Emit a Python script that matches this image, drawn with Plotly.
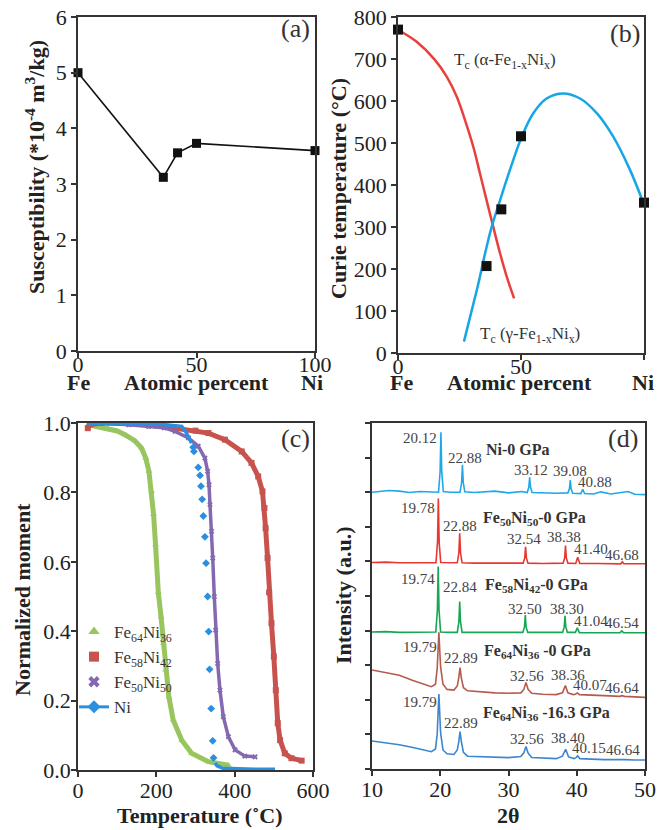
import plotly.graph_objects as go

# ---------------- data ----------------
# (a) susceptibility vs Ni atomic percent
sus_ni = [0, 36, 42, 50, 100]
sus_val = [5.0, 3.12, 3.56, 3.73, 3.60]

# (b) Curie temperature
tc_ni = [0, 36, 42, 50, 100]
tc_val = [770, 207, 342, 516, 358]
alpha_x = [0.1, 7.6, 15, 19.8, 23.9, 27.2, 30.6, 33.3, 36, 38.7, 41.5, 44.2, 47.2]
alpha_t = [769, 741, 698, 658, 610, 555, 491, 428, 364, 301, 237, 182, 130]
gamma_x = [26.8, 30, 32.7, 35.4, 38.1, 41.5, 45.5, 50.3, 55, 60.4, 67.2, 74, 80.8, 87.5, 94.3, 99.7]
gamma_t = [27, 102, 166, 237, 301, 364, 436, 515, 571, 606, 618, 606, 571, 515, 436, 358]

# (c) normalized moment vs temperature
g_T = [26, 50, 77, 100, 120, 145, 162, 173, 181, 188, 193, 198, 205, 212, 218, 224, 232, 243, 265, 290, 333, 384]
g_M = [0.995, 0.99, 0.984, 0.977, 0.966, 0.949, 0.928, 0.899, 0.861, 0.803, 0.736, 0.649, 0.512, 0.442, 0.365, 0.288, 0.211, 0.144, 0.086, 0.048, 0.024, 0.014]
r_T = [25, 30, 60, 100, 150, 200, 248, 300, 333, 375, 418, 443, 460, 471, 476, 479, 484, 488, 494, 500, 505, 510, 516, 528, 545, 571]
r_M = [0.985, 0.995, 1.0, 1.0, 0.997, 0.993, 0.986, 0.978, 0.971, 0.952, 0.918, 0.885, 0.846, 0.803, 0.755, 0.697, 0.611, 0.512, 0.423, 0.327, 0.23, 0.135, 0.086, 0.048, 0.034, 0.027]
p_T = [30, 80, 130, 180, 220, 248, 282, 307, 324, 331, 334.5, 337, 341, 344, 348, 351.5, 356.6, 362.5, 371, 384, 401, 426, 452]
p_M = [1.0, 1.0, 0.995, 0.99, 0.986, 0.976, 0.957, 0.933, 0.899, 0.861, 0.822, 0.765, 0.688, 0.611, 0.5, 0.403, 0.307, 0.23, 0.154, 0.096, 0.058, 0.04, 0.038]
ni_top_T = [25, 60, 100, 150, 200, 240, 265, 275, 282, 290]
ni_top_M = [0.998, 1.0, 0.998, 1.0, 0.998, 0.993, 0.99, 0.975, 0.957, 0.942]
ni_drop_T = [294, 296, 307, 311.5, 314, 317, 320, 324, 327, 331, 333.6, 336, 340, 344, 346]
ni_drop_M = [0.93, 0.918, 0.872, 0.849, 0.818, 0.78, 0.732, 0.672, 0.596, 0.50, 0.399, 0.29, 0.177, 0.084, 0.035]
ni_bot_T = [350, 355, 370, 400, 450, 503]
ni_bot_M = [0.02, 0.012, 0.005, 0.003, 0.002, 0.002]

# (d) XRD patterns (offset intensities)
ni_x = [10, 12.5, 14, 15.5, 17, 18.5, 19.75, 19.98, 20.1, 20.22, 20.45, 21.5, 22.9, 23.13, 23.25, 23.37, 23.6, 25, 28, 30, 32, 32.75, 32.98, 33.1, 33.22, 33.45, 35, 37, 38.7, 38.93, 39.05, 39.17, 39.4, 40.6, 40.87, 41.15, 42.5, 43.5, 45, 47.5, 48.5, 50]
ni_y = [8.0, 8.05, 8.03, 7.99, 8.02, 8.0, 8.0, 8.6, 9.73, 8.6, 8.02, 8.0, 8.0, 8.28, 8.79, 8.28, 8.01, 7.99, 8.03, 7.98, 8.02, 7.99, 8.15, 8.43, 8.15, 7.99, 7.98, 7.97, 7.98, 8.1, 8.35, 8.1, 7.97, 7.96, 8.08, 7.96, 7.95, 8.01, 7.95, 8.02, 7.94, 7.93]
f50_x = [10, 12, 14, 16, 18, 19.37, 19.6, 19.72, 19.84, 20.07, 21.5, 22.5, 22.73, 22.85, 22.97, 23.2, 25, 28, 30, 32.15, 32.38, 32.5, 32.62, 32.85, 35, 38.0, 38.23, 38.35, 38.47, 38.7, 39.85, 40.14, 40.45, 43, 46.45, 46.68, 46.9, 50]
f50_y = [5.97, 5.98, 5.96, 5.97, 5.96, 5.96, 6.55, 7.82, 6.55, 5.97, 5.96, 5.96, 6.25, 6.81, 6.25, 5.96, 5.95, 5.96, 5.95, 5.95, 6.1, 6.42, 6.1, 5.95, 5.94, 5.95, 6.1, 6.46, 6.1, 5.95, 5.94, 6.12, 5.94, 5.94, 5.93, 5.99, 5.93, 5.93]
f58_x = [10, 12, 14, 16, 18, 19.35, 19.58, 19.7, 19.82, 20.05, 21.5, 22.5, 22.73, 22.85, 22.97, 23.2, 25, 28, 30, 32.1, 32.34, 32.46, 32.58, 32.82, 35, 37.93, 38.16, 38.28, 38.4, 38.63, 39.8, 40.08, 40.38, 43, 46.35, 46.6, 46.85, 50]
f58_y = [3.96, 3.97, 3.95, 3.96, 3.95, 3.96, 4.6, 5.85, 4.6, 3.96, 3.95, 3.95, 4.25, 4.84, 4.25, 3.95, 3.95, 3.96, 3.95, 3.95, 4.1, 4.45, 4.1, 3.95, 3.95, 3.95, 4.1, 4.43, 4.1, 3.95, 3.95, 4.08, 3.94, 3.94, 3.94, 3.99, 3.94, 3.94]
f64a_x = [10, 12, 14, 16, 17.5, 18.7, 19.3, 19.55, 19.8, 20.05, 20.4, 21, 22, 22.5, 22.72, 22.9, 23.1, 23.4, 24, 26, 28, 30, 31.8, 32.25, 32.56, 32.87, 33.4, 35, 37, 37.9, 38.33, 38.7, 39.5, 39.8, 40.08, 40.4, 42, 44, 46.3, 46.64, 47, 48.5, 50]
f64a_y = [2.86, 2.79, 2.71, 2.56, 2.45, 2.38, 2.45, 2.9, 3.95, 2.95, 2.45, 2.3, 2.28, 2.4, 2.65, 2.93, 2.62, 2.35, 2.26, 2.22, 2.2, 2.19, 2.2, 2.3, 2.5, 2.3, 2.19, 2.16, 2.15, 2.2, 2.41, 2.2, 2.15, 2.16, 2.2, 2.15, 2.13, 2.12, 2.1, 2.12, 2.1, 2.08, 2.07]
f64b_x = [10, 12, 14, 16, 17.5, 18.7, 19.3, 19.55, 19.8, 20.05, 20.4, 21, 22, 22.5, 22.72, 22.9, 23.1, 23.4, 24, 26, 28, 30, 31.8, 32.25, 32.56, 32.87, 33.4, 35, 37, 37.9, 38.38, 38.8, 39.6, 39.85, 40.12, 40.45, 42, 44, 46.3, 46.64, 47, 48.5, 50]
f64b_y = [0.81, 0.76, 0.7, 0.62, 0.55, 0.5, 0.58, 1.0, 2.17, 1.05, 0.55, 0.44, 0.42, 0.55, 0.8, 1.08, 0.78, 0.48, 0.37, 0.35, 0.34, 0.33, 0.36, 0.47, 0.65, 0.46, 0.33, 0.31, 0.3, 0.37, 0.57, 0.35, 0.3, 0.32, 0.38, 0.3, 0.28, 0.27, 0.27, 0.28, 0.27, 0.26, 0.26]

# peak labels for (d): text, x, y
pk_text = ["20.12", "22.88", "33.12", "39.08", "40.88",
           "19.78", "22.88", "32.54", "38.38", "41.40", "46.68",
           "19.74", "22.84", "32.50", "38.30", "41.04", "46.54",
           "19.79", "22.89", "32.56", "38.36", "40.07", "46.64",
           "19.79", "22.89", "32.56", "38.40", "40.15", "46.64"]
pk_x = [17.0, 23.6, 33.25, 39.0, 42.6,
        16.8, 22.9, 32.3, 38.2, 42.1, 46.7,
        16.8, 22.9, 32.4, 38.5, 42.1, 46.6,
        17.0, 23.0, 32.7, 38.7, 41.9, 46.7,
        17.0, 23.0, 32.7, 38.7, 41.8, 46.8]
pk_y = [9.56, 9.0, 8.64, 8.61, 8.3,
        7.55, 7.02, 6.66, 6.7, 6.35, 6.18,
        5.48, 5.27, 4.62, 4.62, 4.28, 4.21,
        3.54, 3.2, 2.69, 2.72, 2.43, 2.33,
        1.93, 1.32, 0.87, 0.9, 0.6, 0.55]
smp_text = ["Ni-0 GPa", "Fe<sub>50</sub>Ni<sub>50</sub>-0 GPa", "Fe<sub>58</sub>Ni<sub>42</sub>-0 GPa",
            "Fe<sub>64</sub>Ni<sub>36</sub> -0 GPa", "Fe<sub>64</sub>Ni<sub>36</sub> -16.3 GPa"]
smp_x = [31.4, 33.8, 34.1, 34.3, 35.6]
smp_y = [9.24, 7.23, 5.3, 3.39, 1.61]

# ---------------- styling ----------------
FONT = "Liberation Serif"
AX = "#333333"
TICKF = dict(family=FONT, size=22, color="#222")

fig = go.Figure()

# (a)
fig.add_trace(go.Scatter(x=sus_ni, y=sus_val, mode="lines+markers", xaxis="x", yaxis="y",
                         line=dict(color="#111", width=1.6), cliponaxis=False,
                         marker=dict(symbol="square", size=9, color="#111"), showlegend=False))
# (b)
fig.add_trace(go.Scatter(x=alpha_x, y=alpha_t, mode="lines", line=dict(color="#E8413C", width=2.5, shape="spline"),
                         xaxis="x2", yaxis="y2", showlegend=False))
fig.add_trace(go.Scatter(x=gamma_x, y=gamma_t, mode="lines", line=dict(color="#17A6E4", width=2.5, shape="spline"),
                         xaxis="x2", yaxis="y2", showlegend=False))
fig.add_trace(go.Scatter(x=tc_ni, y=tc_val, mode="markers", marker=dict(symbol="square", size=10, color="#111"),
                         xaxis="x2", yaxis="y2", showlegend=False, cliponaxis=False))

# (c)
GREEN, RED, PURP, NIB = "#98C55E", "#C8524D", "#8468B0", "#2A8FE0"
fig.add_trace(go.Scatter(x=g_T, y=g_M, mode="lines+markers", line=dict(color=GREEN, width=5),
                         marker=dict(symbol="triangle-up", size=6, color=GREEN), xaxis="x3", yaxis="y3", showlegend=False))
fig.add_trace(go.Scatter(x=r_T, y=r_M, mode="lines+markers", line=dict(color=RED, width=5),
                         marker=dict(symbol="square", size=6, color=RED), xaxis="x3", yaxis="y3", showlegend=False))
fig.add_trace(go.Scatter(x=p_T, y=p_M, mode="lines+markers", line=dict(color=PURP, width=3.5),
                         marker=dict(symbol="x", size=5, color=PURP), xaxis="x3", yaxis="y3", showlegend=False))
fig.add_trace(go.Scatter(x=ni_top_T, y=ni_top_M, mode="lines", line=dict(color=NIB, width=3.5),
                         xaxis="x3", yaxis="y3", showlegend=False))
fig.add_trace(go.Scatter(x=ni_drop_T, y=ni_drop_M, mode="markers", marker=dict(symbol="diamond", size=6, color=NIB),
                         xaxis="x3", yaxis="y3", showlegend=False))
fig.add_trace(go.Scatter(x=ni_bot_T, y=ni_bot_M, mode="lines", line=dict(color=NIB, width=3.5),
                         xaxis="x3", yaxis="y3", showlegend=False))
# legend entries for (c)
for name, sym, col, mode in [("Fe<sub>64</sub>Ni<sub>36</sub>", "triangle-up", GREEN, "markers"),
                             ("Fe<sub>58</sub>Ni<sub>42</sub>", "square", RED, "markers"),
                             ("Fe<sub>50</sub>Ni<sub>50</sub>", "x", PURP, "markers"),
                             ("Ni", "diamond", NIB, "lines+markers")]:
    fig.add_trace(go.Scatter(x=[None], y=[None], mode=mode, name=name,
                             marker=dict(symbol=sym, size=10, color=col), line=dict(color=col, width=3),
                             xaxis="x3", yaxis="y3", showlegend=True))

# (d)
for xs, ys, col in [(ni_x, ni_y, "#1FA8E8"), (f50_x, f50_y, "#E8372F"), (f58_x, f58_y, "#17A653"),
                    (f64a_x, f64a_y, "#B65A4E"), (f64b_x, f64b_y, "#3C86D0")]:
    fig.add_trace(go.Scatter(x=xs, y=ys, mode="lines", line=dict(color=col, width=1.6),
                             xaxis="x4", yaxis="y4", showlegend=False))

C = dict(xanchor="center", yanchor="middle", showarrow=False)
ann = []
for t, x, y in zip(pk_text, pk_x, pk_y):
    ann.append(dict(text=t, x=x, y=y, xref="x4", yref="y4", **C,
                    font=dict(family=FONT, size=15, color="#444")))
for t, x, y in zip(smp_text, smp_x, smp_y):
    ann.append(dict(text="<b>" + t + "</b>", x=x, y=y, xref="x4", yref="y4", **C,
                    font=dict(family=FONT, size=16, color="#333")))

# panel letters
for t, px, py in [("(a)", 295, 28), ("(b)", 625, 33), ("(c)", 295, 438), ("(d)", 623, 438)]:
    ann.append(dict(text=t, x=px / 660, y=1 - py / 830, xref="paper", yref="paper", **C,
                    font=dict(family=FONT, size=26, color="#333")))

# axis titles
def ytitle(t, px, py):
    ann.append(dict(text="<b>" + t + "</b>", x=px / 660, y=1 - py / 830, xref="paper", yref="paper",
                    **C, textangle=-90, font=dict(family=FONT, size=22, color="#222")))

def xtitle(t, px, py, size=22):
    ann.append(dict(text="<b>" + t + "</b>", x=px / 660, y=1 - py / 830, xref="paper", yref="paper",
                    **C, font=dict(family=FONT, size=size, color="#222")))

ytitle("Susceptibility (*10<sup>-4</sup> m<sup>3</sup>/kg)", 35, 167)
ytitle("Curie temperature (°C)", 338, 189)
ytitle("Normalized moment", 22, 600)
ytitle("Intensity (a.u.)", 343, 595)
for t, px in [("Fe", 78), ("Atomic percent", 196), ("Ni", 312), ("Fe", 401), ("Atomic percent", 519), ("Ni", 643)]:
    xtitle(t, px, 383)
xtitle("Temperature (˚C)", 200, 815)
xtitle("2θ", 508, 815)

# (b) curve labels
ann.append(dict(text="T<sub>c</sub> (α-Fe<sub>1-x</sub>Ni<sub>x</sub>)", x=21.8, y=696, xref="x2", yref="y2",
                xanchor="left", yanchor="middle", showarrow=False, font=dict(family=FONT, size=17, color="#333")))
ann.append(dict(text="T<sub>c</sub> (γ-Fe<sub>1-x</sub>Ni<sub>x</sub>)", x=32.6, y=43, xref="x2", yref="y2",
                xanchor="left", yanchor="middle", showarrow=False, font=dict(family=FONT, size=17, color="#333")))

def axis(domain, anchor, rng, **kw):
    d = dict(domain=domain, anchor=anchor, range=rng, showline=True, mirror=True, linecolor=AX, linewidth=1.5,
             ticks="outside", ticklen=5, tickwidth=1.5, tickcolor=AX, tickfont=TICKF, showgrid=False,
             zeroline=False, automargin=False)
    d.update(kw)
    return d

fig.update_layout(
    width=660, height=830, margin=dict(l=0, r=0, t=0, b=0, autoexpand=False),
    plot_bgcolor="white", paper_bgcolor="white",
    font=dict(family=FONT),
    xaxis=axis([78 / 660, 315 / 660], "y", [0, 100], tickvals=[0, 50, 100], ticklabelstandoff=-12),
    yaxis=axis([1 - 351 / 830, 1 - 17 / 830], "x", [0, 6], dtick=1),
    xaxis2=axis([398 / 660, 644 / 660], "y2", [0, 100], tickvals=[0, 50, 100], ticklabelstandoff=-12),
    yaxis2=axis([1 - 353 / 830, 1 - 17 / 830], "x2", [0, 800], dtick=100),
    xaxis3=axis([78 / 660, 313 / 660], "y3", [0, 600], dtick=200, ticklabelstandoff=-5),
    yaxis3=axis([1 - 770 / 830, 1 - 423 / 830], "x3", [0, 1.0], dtick=0.2, tickformat=".1f", ticklabelstandoff=-4),
    xaxis4=axis([372 / 660, 645 / 660], "y4", [10, 50], dtick=10, ticklabelstandoff=-5),
    yaxis4=axis([1 - 769 / 830, 1 - 423 / 830], "x4", [0, 10], dtick=1, showticklabels=False),
    legend=dict(x=74 / 660, y=1 - 614 / 830, xanchor="left", yanchor="top", bgcolor="rgba(0,0,0,0)",
                font=dict(family=FONT, size=17, color="#333"), itemwidth=30, tracegroupgap=0),
    annotations=ann,
)

fig.write_html("out.html", config={"displayModeBar": False},
               post_script="document.body.style.margin='0';document.body.style.overflow='hidden';")
